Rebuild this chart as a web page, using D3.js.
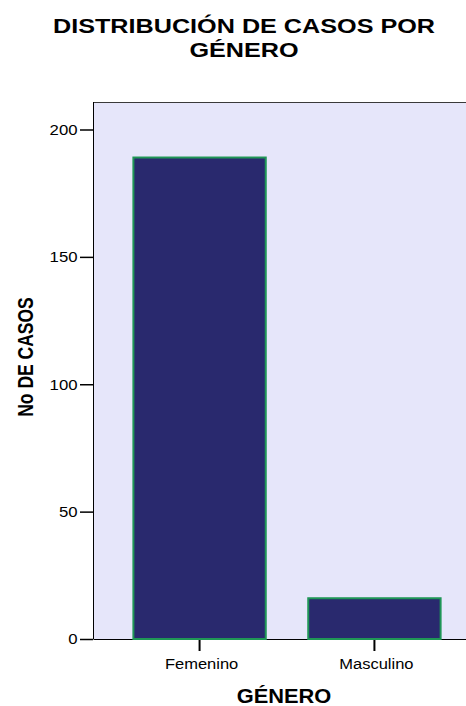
<!DOCTYPE html>
<html>
<head>
<meta charset="utf-8">
<script src="https://cdn.jsdelivr.net/npm/d3@7"></script>
<style>
  body { margin: 0; background: #fff; }
  text { font-family: "Liberation Sans", Arial, sans-serif; }
</style>
</head>
<body>
<div id="chart"></div>
<script>
const categories = ["Femenino", "Masculino"];
const casos = [189, 16];
const yTicks = [0, 50, 100, 150, 200];
const titleLines = ["DISTRIBUCIÓN DE CASOS POR", "GÉNERO"];

const W = 466, H = 706;
const plot = {left: 93, top: 102, right: 481, bottom: 639};

const svg = d3.select("#chart").append("svg")
    .attr("width", W)
    .attr("height", H);

const x = d3.scaleBand()
    .domain(categories)
    .range([plot.left, plot.right])
    .paddingInner(0.243)
    .paddingOuter(0.231);

const y = d3.scaleLinear()
    .domain([0, 200])
    .range([plot.bottom, 129.5]);

// plot background
svg.append("rect")
    .attr("x", plot.left)
    .attr("y", plot.top)
    .attr("width", plot.right - plot.left)
    .attr("height", plot.bottom - plot.top)
    .attr("fill", "#e6e6fa");

// top border
svg.append("line")
    .attr("x1", plot.left).attr("x2", plot.right)
    .attr("y1", plot.top + 0.5).attr("y2", plot.top + 0.5)
    .attr("stroke", "#3a3a3a");

// y axis
const yAxis = svg.append("g")
    .attr("transform", `translate(${plot.left},0)`)
    .call(d3.axisLeft(y).tickValues(yTicks).tickSize(13).tickSizeOuter(0));
yAxis.select(".domain").attr("stroke", "#000").attr("d", `M0.5,${plot.top}V${plot.bottom}`);
yAxis.selectAll(".tick line").attr("stroke", "#000").attr("stroke-width", 1.5);
yAxis.selectAll(".tick text")
    .attr("x", 0)
    .attr("transform", "translate(-15.5,0) scale(1.08,1)")
    .attr("font-size", 15.5)
    .attr("fill", "#000")
    .style("font-family", "'Liberation Sans', Arial, sans-serif");

// x axis
const xAxis = svg.append("g")
    .attr("transform", `translate(0,${plot.bottom})`)
    .call(d3.axisBottom(x).tickSize(12).tickSizeOuter(0));
xAxis.select(".domain").attr("stroke", "#000");
xAxis.selectAll(".tick line").attr("stroke", "#000").attr("stroke-width", 2);
xAxis.selectAll(".tick text")
    .attr("y", 0).attr("dy", 0)
    .attr("transform", "translate(2,30) scale(1.1,1)")
    .attr("font-size", 15)
    .attr("fill", "#000")
    .style("font-family", "'Liberation Sans', Arial, sans-serif");

// bars
svg.selectAll("rect.bar")
    .data(categories)
    .enter()
    .append("rect")
        .classed("bar", true)
        .attr("x", d => x(d))
        .attr("y", (d, i) => y(casos[i]))
        .attr("width", x.bandwidth())
        .attr("height", (d, i) => y(0) - y(casos[i]))
        .attr("fill", "#29296e")
        .attr("stroke", "#1f9656")
        .attr("stroke-width", 2);

// title
svg.selectAll("text.title")
    .data(titleLines)
    .enter()
    .append("text")
        .classed("title", true)
        .attr("transform", (d, i) => `translate(244,${33 + i * 24}) scale(1.2,1)`)
        .attr("text-anchor", "middle")
        .attr("font-size", 21).attr("font-weight", "bold")
        .text(d => d);

// axis titles
svg.append("text")
    .attr("transform", "translate(33,357) scale(1.25,1) rotate(-90)")
    .attr("text-anchor", "middle")
    .attr("font-size", 17.5).attr("font-weight", "bold")
    .text("No DE CASOS");

svg.append("text")
    .attr("transform", "translate(284,703) scale(1.12,1)")
    .attr("text-anchor", "middle")
    .attr("font-size", 19.5).attr("font-weight", "bold")
    .text("GÉNERO");
</script>
</body>
</html>
